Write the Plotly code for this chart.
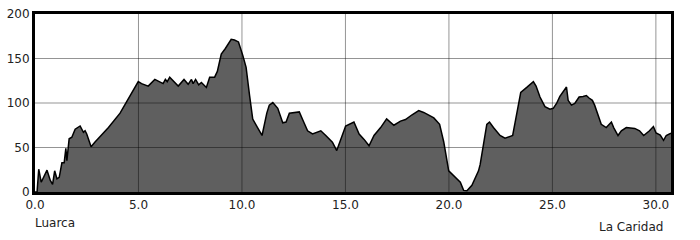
import plotly.graph_objects as go

dist_km = [0.0, 0.10, 0.18, 0.30, 0.58, 0.74, 0.85, 0.95, 1.06, 1.17, 1.30, 1.41, 1.49, 1.54,
           1.65, 1.78, 1.94, 2.18, 2.34, 2.42, 2.50, 2.71, 2.90, 3.55, 4.11, 4.67, 4.99,
           5.15, 5.47, 5.79, 5.95, 6.19, 6.30, 6.39, 6.51, 6.75, 6.92, 7.20, 7.40, 7.56,
           7.64, 7.76, 7.91, 8.04, 8.28, 8.44, 8.68, 8.81, 9.00, 9.19, 9.48, 9.64, 9.83,
           10.04, 10.20, 10.37, 10.52, 10.76, 10.97, 11.20, 11.32, 11.49, 11.73, 11.97,
           12.13, 12.29, 12.53, 12.77, 12.93, 13.17, 13.41, 13.81, 14.05, 14.37, 14.58,
           14.77, 15.01, 15.41, 15.66, 15.90, 16.14, 16.38, 16.70, 16.99, 17.34, 17.66,
           17.90, 18.22, 18.54, 18.78, 19.27, 19.55, 19.75, 19.99, 20.15, 20.39, 20.55,
           20.71, 20.87, 21.11, 21.43, 21.51, 21.67, 21.83, 21.96, 22.15, 22.47, 22.71,
           23.08, 23.24, 23.47, 23.76, 24.08, 24.21, 24.40, 24.64, 24.88, 25.04, 25.20,
           25.36, 25.60, 25.68, 25.76, 25.92, 26.08, 26.29, 26.48, 26.64, 26.77, 26.93,
           27.04, 27.20, 27.36, 27.60, 27.85, 27.96, 28.17, 28.33, 28.57, 28.98, 29.21,
           29.41, 29.69, 29.88, 30.01, 30.21, 30.37, 30.50, 30.73]
elev_m = [0, 0, 25.6, 11, 24.5, 13, 8.6, 23.8, 14.8, 16.5, 32.8, 32.8, 49, 35.3,
          59.8, 61.6, 70.6, 74.2, 67, 68.8, 65.2, 50.8, 56.2, 72.4, 88.6, 112, 124,
          121.8, 119, 126.5, 124.7, 121.8, 126.5, 124, 129, 123, 119, 126.5, 121, 126.5,
          121.8, 126.5, 120.4, 123, 117.5, 129, 129, 135.5, 155, 161, 171.5, 170.8, 168.6,
          153.5, 140, 108, 82, 72, 63.5, 88.6, 97.6, 100.5, 94, 77.8,
          78.6, 88.6, 89.4, 90, 81.4, 68.8, 65.2, 68.8, 63.5, 56, 46.5,
          58, 74.2, 78.6, 65.2, 59.1, 51.9, 63.5, 72.4, 82.2, 75, 79.6,
          81.4, 86.8, 91.5, 89.4, 83.2, 76, 56.2, 23.8, 20.2, 14.8, 11.1,
          1.8, 1.4, 7.6, 23.8, 31, 52.6, 76, 78.6, 72.4, 63.5, 60.5,
          63.5, 85, 112, 117.5, 124, 119, 106.7, 95.9, 93, 94, 99.5,
          107.4, 115.7, 118, 103, 97.6, 99.5, 106.7, 107.4, 108.4, 105.6, 103,
          97.6, 86.8, 76, 72.4, 78.6, 72.4, 63.5, 68.8, 72.4, 71.4, 68.8,
          63.5, 68.8, 73.5, 66.3, 64, 58, 63.5, 66]
x_ticks = [0, 5, 10, 15, 20, 25, 30]
y_ticks = [0, 50, 100, 150, 200]
start_label = "Luarca"
end_label = "La Caridad"

FONT = "DejaVu Sans"
X_MAX = 30.73
GRID = "rgba(0,0,0,0.42)"

fig = go.Figure()
fig.add_trace(go.Scatter(
    x=dist_km, y=elev_m, mode="lines", fill="tozeroy",
    fillcolor="#5f5f5f", line=dict(color="#000000", width=1.5),
    hoverinfo="skip", showlegend=False,
))

shapes = []
for xv in x_ticks:
    if 0 < xv < X_MAX:
        shapes.append(dict(type="line", xref="x", yref="y", x0=xv, x1=xv,
                           y0=y_ticks[0], y1=y_ticks[-1], layer="above",
                           line=dict(color=GRID, width=1)))
for yv in y_ticks:
    if y_ticks[0] < yv < y_ticks[-1]:
        shapes.append(dict(type="line", xref="x", yref="y", x0=0, x1=X_MAX,
                           y0=yv, y1=yv, layer="above",
                           line=dict(color=GRID, width=1)))

fig.update_layout(
    width=700, height=240,
    margin=dict(l=33, r=29, t=7, b=48),
    paper_bgcolor="white", plot_bgcolor="white",
    font=dict(family=FONT, size=12, color="#222222"),
    shapes=shapes,
    xaxis=dict(range=[0, X_MAX], tickvals=x_ticks, tickformat=".1f",
               showgrid=False, layer="above traces",
               showline=True, linecolor="black", linewidth=3, mirror=True,
               ticks="", zeroline=False, fixedrange=True),
    yaxis=dict(range=[0, 200], tickvals=y_ticks,
               showgrid=False, layer="above traces",
               showline=True, linecolor="black", linewidth=3, mirror=True,
               ticks="", zeroline=False, fixedrange=True),
    annotations=[
        dict(text=start_label, xref="paper", yref="paper", x=0, y=0,
             xanchor="left", yanchor="middle", xshift=-2, yshift=-31,
             showarrow=False, font=dict(family=FONT, size=12, color="#222222")),
        dict(text=end_label, xref="paper", yref="paper", x=1, y=0,
             xanchor="right", yanchor="middle", xshift=-6, yshift=-35,
             showarrow=False, font=dict(family=FONT, size=12, color="#222222")),
    ],
)

fig.write_html("out.html")
